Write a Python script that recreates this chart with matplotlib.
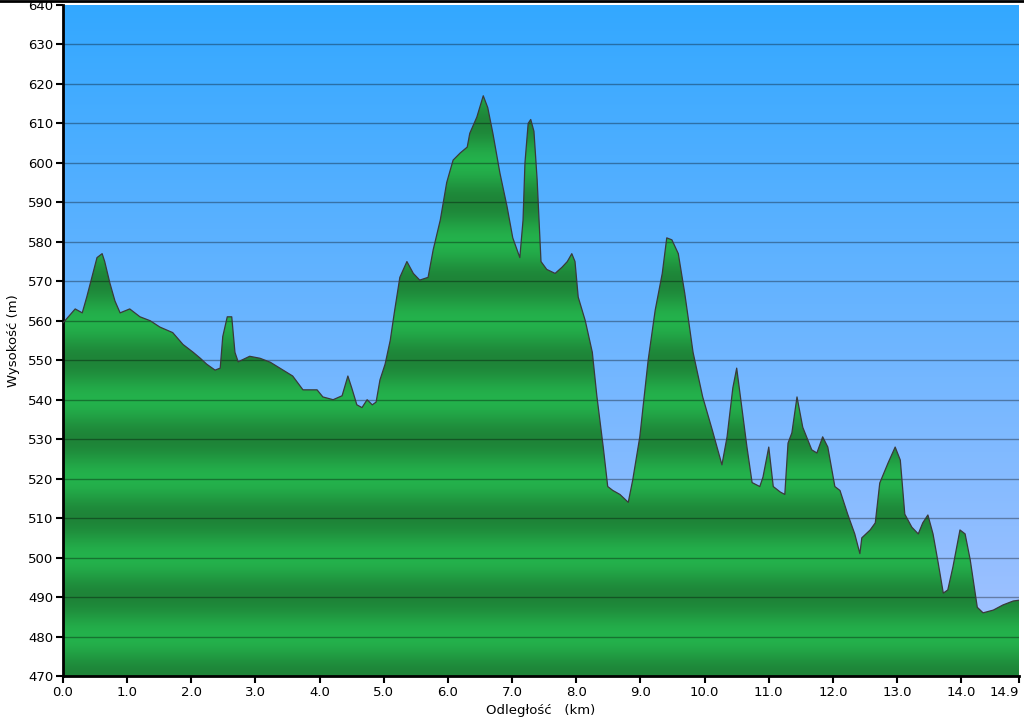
import numpy as np
import matplotlib.pyplot as plt
from matplotlib.lines import Line2D

# elevation profile: distance (km) and elevation (m)
dist_km = [0.00, 0.03, 0.19, 0.30, 0.37, 0.45, 0.53, 0.61, 0.65, 0.73, 0.81, 0.89,
           1.04, 1.20, 1.36, 1.51, 1.71, 1.87, 2.03, 2.14, 2.24, 2.37, 2.45, 2.49,
           2.56, 2.63, 2.68, 2.73, 2.91, 3.07, 3.23, 3.43, 3.58, 3.74, 3.96, 4.05,
           4.21, 4.35, 4.44, 4.50, 4.58, 4.66, 4.74, 4.82, 4.88, 4.94, 5.02, 5.10,
           5.17, 5.25, 5.36, 5.46, 5.56, 5.69, 5.77, 5.88, 5.98, 6.08, 6.19, 6.30,
           6.34, 6.45, 6.55, 6.62, 6.70, 6.81, 6.92, 7.01, 7.12, 7.17, 7.20, 7.25,
           7.29, 7.34, 7.39, 7.45, 7.54, 7.67, 7.78, 7.86, 7.93, 7.98, 8.03, 8.14,
           8.25, 8.32, 8.42, 8.49, 8.57, 8.68, 8.81, 8.88, 8.99, 9.12, 9.23, 9.34,
           9.41, 9.49, 9.59, 9.69, 9.82, 9.97, 10.12, 10.21, 10.27, 10.35, 10.44,
           10.50, 10.58, 10.66, 10.74, 10.86, 10.91, 11.00, 11.07, 11.18, 11.25,
           11.30, 11.36, 11.44, 11.53, 11.67, 11.75, 11.84, 11.92, 12.03, 12.11,
           12.23, 12.34, 12.42, 12.45, 12.58, 12.66, 12.73, 12.86, 12.97, 13.05,
           13.12, 13.23, 13.33, 13.40, 13.48, 13.56, 13.64, 13.72, 13.79, 13.87,
           13.98, 14.06, 14.14, 14.25, 14.34, 14.50, 14.65, 14.81, 14.90]
elev_m = [559.5, 560, 563, 562, 566, 571, 576, 577, 575, 569.6, 565, 562,
          563, 561, 560, 558.4, 557, 554, 552, 550.5, 549, 547.5, 548, 556,
          561, 561, 552, 549.6, 551, 550.5, 549.5, 547.5, 546, 542.5, 542.5, 540.7,
          540, 541, 546, 543, 538.7, 538, 540, 538.7, 539.4, 545, 549, 555,
          562.7, 571, 575, 572, 570.3, 571, 578, 585.5, 595, 600.7, 602.5, 604,
          607.5, 611.6, 617, 614, 607.5, 597.4, 589, 581, 576, 585.5, 600, 610,
          611, 608, 595.7, 575, 573, 572, 573.6, 575, 577, 575, 566, 560,
          552, 541, 528, 518, 517, 516, 514, 519.7, 530.6, 550, 562.7, 572,
          581, 580.5, 577, 567, 552, 540.7, 532.3, 527, 523.5, 530.6, 543,
          548, 538, 528, 519, 518, 520.4, 528, 518, 516.6, 516,
          529, 531.6, 540.7, 533, 527.3, 526.5, 530.6, 528, 518, 517,
          511, 506, 501, 505, 507, 508.8, 518.9, 524, 528, 524.7,
          511, 507.7, 506, 508.8, 510.8, 506, 498.7, 491, 491.8, 497.6,
          507, 506, 499.4, 487.4, 486, 486.7, 488, 489, 489.2]

x_ticks = [0, 1, 2, 3, 4, 5, 6, 7, 8, 9, 10, 11, 12, 13, 14, 14.9]
y_ticks = list(range(470, 641, 10))

fig = plt.figure(figsize=(10.24, 7.2), dpi=100)
ax = fig.add_axes([63/1024, 1-676/720, 956/1024, 671/720])
x0, x1, y0, y1 = 0, 14.9, 470, 640

# sky background gradient
top = np.array([51, 168, 255]) / 255
bot = np.array([168, 195, 255]) / 255
t = np.linspace(0, 1, 256)[:, None]
sky = top * (1 - t) + bot * t
ax.imshow(sky[:, None, :], extent=[x0, x1, y0, y1], aspect='auto', zorder=0)

# green fill with 20 m banding
yy = np.linspace(y1, y0, 1200)
w = 0.5 + 0.5*np.cos(2*np.pi*(yy - 480)/20)
light = np.array([36, 178, 76]) / 255
dark = np.array([30, 132, 56]) / 255
band = dark * (1 - w[:, None]) + light * w[:, None]
im = ax.imshow(band[:, None, :], extent=[x0, x1, y0, y1], aspect='auto', zorder=1)
poly = ax.fill_between(dist_km, elev_m, y0, color='none', lw=0)
im.set_clip_path(poly.get_paths()[0], transform=ax.transData)
ax.plot(dist_km, elev_m, color='#3a3a3a', lw=0.9, zorder=3)

for y in y_ticks[1:-1]:
    ax.axhline(y, color='black', alpha=0.35, lw=1, zorder=2)

ax.set_xlim(x0, x1)
ax.set_ylim(y0, y1)
ax.set_xticks(x_ticks)
ax.set_xticklabels([f'{v:.1f}' for v in x_ticks])
ax.get_xticklabels()[-1].set_horizontalalignment('right')
ax.set_yticks(y_ticks)
ax.tick_params(direction='out', length=5, width=1.5, labelsize=9.5, pad=2)
for s in ['top', 'right']:
    ax.spines[s].set_visible(False)
for s in ['left', 'bottom']:
    ax.spines[s].set_linewidth(2)
ax.set_xlabel('Odległość   (km)', fontsize=9.5, labelpad=4)
ax.set_ylabel('Wysokość (m)', fontsize=9.5, labelpad=6)

# thin black border along the top edge of the image
fig.add_artist(Line2D([0, 1], [0.999, 0.999], color='black', lw=2,
                      transform=fig.transFigure, zorder=10))

plt.savefig('out.png', dpi=100)
